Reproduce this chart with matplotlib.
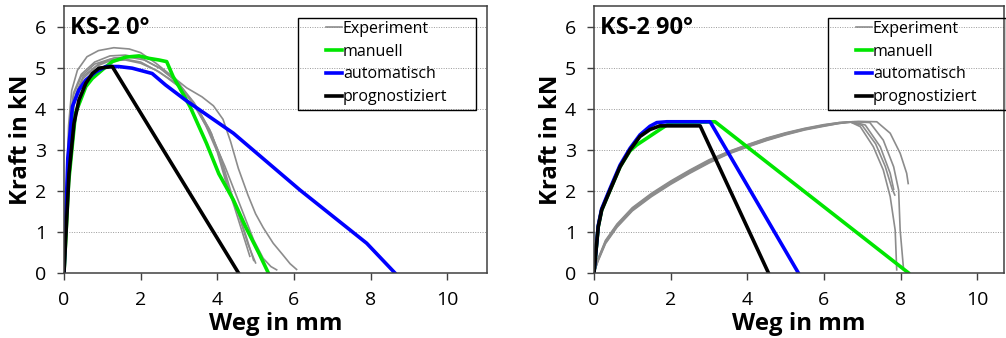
import matplotlib
matplotlib.use("Agg")
import matplotlib.pyplot as plt
from matplotlib.patches import Rectangle

plt.rcParams["font.family"] = ["Open Sans", "DejaVu Sans"]

# ---- KS-2 0° ----
exp0 = [
    ([0, 0.05, 0.12, 0.2, 0.35, 0.6, 0.9, 1.3, 1.7, 2.0, 2.4, 2.8, 3.2, 3.6, 3.9, 4.15, 4.35, 4.55, 4.8, 5.0, 5.2, 5.46, 5.7, 5.9, 6.07],
     [0, 1.6, 3.6, 4.45, 4.95, 5.28, 5.43, 5.5, 5.47, 5.38, 5.12, 4.82, 4.52, 4.3, 4.08, 3.75, 3.2, 2.55, 1.9, 1.44, 1.1, 0.72, 0.45, 0.22, 0.08]),
    ([0, 0.06, 0.14, 0.25, 0.45, 0.8, 1.2, 1.6, 2.0, 2.5, 3.0, 3.4, 3.8, 4.1, 4.35, 4.6, 4.8, 5.0],
     [0, 1.5, 3.5, 4.4, 4.85, 5.15, 5.3, 5.32, 5.25, 5.0, 4.62, 4.15, 3.5, 2.8, 2.0, 1.3, 0.7, 0.24]),
    ([0, 0.07, 0.16, 0.3, 0.5, 0.9, 1.3, 1.7, 2.1, 2.6, 3.0, 3.5, 3.9, 4.2, 4.45, 4.7, 4.95, 5.2, 5.4, 5.55],
     [0, 1.4, 3.4, 4.35, 4.8, 5.1, 5.25, 5.27, 5.2, 4.95, 4.62, 3.95, 3.25, 2.6, 2.0, 1.4, 0.8, 0.35, 0.15, 0.07]),
    ([0, 0.05, 0.13, 0.25, 0.45, 0.8, 1.2, 1.6, 2.0, 2.5, 3.0, 3.5, 3.85, 4.1, 4.3, 4.55, 4.75, 4.95],
     [0, 1.5, 3.5, 4.35, 4.8, 5.1, 5.22, 5.22, 5.15, 4.9, 4.55, 4.0, 3.4, 2.7, 2.05, 1.45, 0.9, 0.3]),
    ([0, 0.06, 0.15, 0.28, 0.5, 0.85, 1.2, 1.6, 2.0, 2.4, 2.9, 3.3, 3.7, 4.0, 4.2, 4.45, 4.65, 4.85],
     [0, 1.3, 3.3, 4.25, 4.75, 5.05, 5.18, 5.2, 5.12, 4.95, 4.65, 4.25, 3.6, 2.95, 2.3, 1.6, 1.0, 0.4]),
]
man0_x = [0, 0.12, 0.3, 0.57, 0.74, 1.0, 1.26, 1.61, 1.96, 2.22, 2.48, 2.68, 2.85, 3.0, 3.29, 3.72, 4.04, 4.42, 4.74, 5.09, 5.33]
man0_y = [0, 2.2, 3.9, 4.55, 4.75, 4.96, 5.16, 5.27, 5.3, 5.24, 5.2, 5.16, 4.79, 4.55, 4.06, 3.16, 2.42, 1.78, 1.12, 0.47, 0]
auto0_x = [0, 0.1, 0.22, 0.39, 0.57, 0.83, 1.09, 1.43, 1.78, 2.3, 2.65, 3.2, 4.42, 6.16, 7.9, 8.63]
auto0_y = [0, 2.8, 4.06, 4.47, 4.71, 4.91, 5.04, 5.04, 5.0, 4.87, 4.59, 4.2, 3.41, 2.02, 0.72, 0]
prog0_x = [0, 0.13, 0.26, 0.39, 0.57, 0.74, 0.91, 1.09, 1.26, 4.55]
prog0_y = [0, 2.42, 3.65, 4.22, 4.63, 4.87, 5.0, 5.02, 5.04, 0]

# ---- KS-2 90° ----
exp90 = [
    ([0, 0.1, 0.3, 0.6, 1.0, 1.5, 2.0, 2.5, 3.0, 3.5, 4.0, 4.5, 5.0, 5.5, 6.0, 6.4, 6.68, 6.95, 7.29, 7.55, 7.73, 7.86, 7.9],
     [0, 0.3, 0.75, 1.15, 1.55, 1.9, 2.2, 2.47, 2.72, 2.93, 3.1, 3.26, 3.4, 3.51, 3.6, 3.66, 3.69, 3.57, 3.08, 2.51, 1.86, 1.04, 0.07]),
    ([0, 0.1, 0.3, 0.6, 1.0, 1.5, 2.0, 2.5, 3.0, 3.5, 4.0, 4.5, 5.0, 5.5, 6.0, 6.4, 6.75, 7.08, 7.47, 7.73, 7.82],
     [0, 0.33, 0.79, 1.19, 1.59, 1.94, 2.24, 2.51, 2.76, 2.96, 3.13, 3.29, 3.42, 3.53, 3.62, 3.67, 3.69, 3.61, 3.08, 2.43, 2.04]),
    ([0, 0.1, 0.3, 0.6, 1.0, 1.5, 2.0, 2.5, 3.0, 3.5, 4.0, 4.5, 5.0, 5.5, 6.0, 6.4, 6.8, 7.2, 7.55, 7.82, 7.95, 7.99, 8.08],
     [0, 0.27, 0.71, 1.11, 1.51, 1.86, 2.16, 2.43, 2.68, 2.9, 3.07, 3.23, 3.37, 3.49, 3.58, 3.65, 3.69, 3.67, 3.24, 2.59, 2.02, 1.04, 0.07]),
    ([0, 0.1, 0.3, 0.6, 1.0, 1.5, 2.0, 2.5, 3.0, 3.5, 4.0, 4.5, 5.0, 5.5, 6.0, 6.4, 6.9, 7.38, 7.73, 7.99, 8.16, 8.2],
     [0, 0.31, 0.77, 1.17, 1.57, 1.92, 2.22, 2.49, 2.74, 2.95, 3.12, 3.28, 3.41, 3.52, 3.61, 3.67, 3.7, 3.69, 3.41, 2.92, 2.43, 2.18]),
    ([0, 0.1, 0.3, 0.6, 1.0, 1.5, 2.0, 2.5, 3.0, 3.5, 4.0, 4.5, 5.0, 5.5, 6.0, 6.4, 6.7, 7.0, 7.35, 7.6, 7.78, 7.85],
     [0, 0.29, 0.73, 1.13, 1.53, 1.88, 2.18, 2.45, 2.7, 2.91, 3.08, 3.24, 3.38, 3.5, 3.59, 3.65, 3.68, 3.6, 3.15, 2.6, 2.05, 1.9]),
]
man90_x = [0, 0.11, 0.2, 0.42, 0.68, 0.94, 1.11, 1.4, 1.64, 1.9, 2.07, 3.16, 8.2]
man90_y = [0, 1.12, 1.53, 2.02, 2.59, 2.98, 3.12, 3.3, 3.45, 3.61, 3.67, 3.69, 0]
auto90_x = [0, 0.11, 0.2, 0.42, 0.68, 0.94, 1.2, 1.46, 1.64, 1.9, 3.03, 5.33]
auto90_y = [0, 1.15, 1.56, 2.06, 2.63, 3.04, 3.37, 3.58, 3.67, 3.69, 3.69, 0]
prog90_x = [0, 0.11, 0.2, 0.42, 0.68, 0.94, 1.2, 1.46, 1.72, 2.77, 4.55]
prog90_y = [0, 1.12, 1.53, 2.02, 2.59, 3.0, 3.33, 3.5, 3.59, 3.59, 0]

W, H = 1006, 338
fig = plt.figure(figsize=(W / 100, H / 100), dpi=100)

panels = [
    ("KS-2 0°", exp0, man0_x, man0_y, auto0_x, auto0_y, prog0_x, prog0_y, 64, 487, 11.04),
    ("KS-2 90°", exp90, man90_x, man90_y, auto90_x, auto90_y, prog90_x, prog90_y, 594, 1004, 10.7),
]

for title, exps, mx, my, ax_, ay, px, py, x0, x1, xmax in panels:
    ax = fig.add_axes([x0 / W, 1 - 272.7 / H, (x1 - x0) / W, (272.7 - 6) / H])
    for i, (ex, ey) in enumerate(exps):
        ax.plot(ex, ey, color="#8c8c8c", lw=1.2, label="Experiment" if i == 0 else None)
    ax.plot(mx, my, color="#00e600", lw=2.6, label="manuell")
    ax.plot(ax_, ay, color="#0000ff", lw=2.6, label="automatisch")
    ax.plot(px, py, color="black", lw=2.6, label="prognostiziert")

    ax.set_xlim(0, xmax)
    ax.set_ylim(0, 6.52)
    ax.set_xticks([0, 2, 4, 6, 8, 10])
    ax.set_yticks([0, 1, 2, 3, 4, 5, 6])
    ax.yaxis.grid(True, linestyle=(0, (1, 1.5)), color="#9a9a9a", lw=0.7)
    ax.set_axisbelow(True)
    for s in ax.spines.values():
        s.set_color("#404040")
        s.set_linewidth(1.1)
    ax.tick_params(direction="out", length=5, width=1, color="#404040", labelsize=14, pad=8)
    ax.set_xlabel("Weg in mm", fontsize=17.3, fontweight="bold", labelpad=2.5)
    ax.set_ylabel("Kraft in kN", fontsize=17.3, fontweight="bold", labelpad=1)
    ax.text(0.014, 0.963, title, transform=ax.transAxes, fontsize=17, fontweight="bold",
            va="top", ha="left")

    # legend text without frame, box drawn separately (wider than the entries)
    off = x0 - 64
    leg = ax.legend(loc="upper left", bbox_to_anchor=((326 + off) / W, 1 - 21 / H),
                    bbox_transform=fig.transFigure, fontsize=11.5, handlelength=1.0,
                    handletextpad=0.05, frameon=False, borderaxespad=0, borderpad=0,
                    labelspacing=0.42)
    fig.add_artist(Rectangle(((297.5 + off) / W, 1 - 110 / H), 178 / W, 92 / H,
                             transform=fig.transFigure, fill=False, ec="black", lw=1.0,
                             zorder=5))

plt.savefig("out.png", dpi=100)
